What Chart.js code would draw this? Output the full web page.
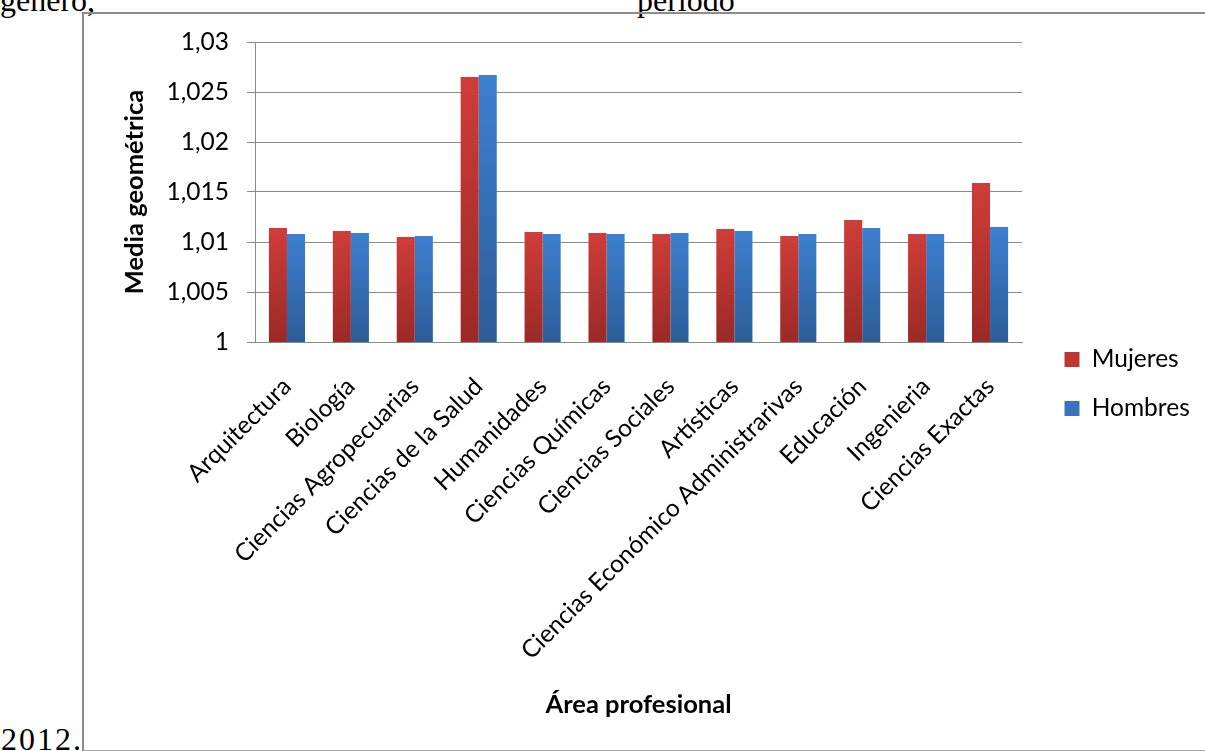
<!DOCTYPE html>
<html>
<head>
<meta charset="utf-8">
<script src="https://cdn.jsdelivr.net/npm/chart.js@4.4.1/dist/chart.umd.min.js"></script>
<style>
  html, body { margin: 0; padding: 0; background: #fff; overflow: hidden; }
  body { width: 1205px; height: 751px; position: relative; font-family: "Liberation Serif", serif; }
  .doc { position: absolute; font-size: 32px; color: #000; line-height: 1; white-space: nowrap; }
  #box { position: absolute; left: 82px; top: 12px; width: 1200px; height: 736px;
         border-left: 2px solid #8c8c8c; border-top: 2px solid #8c8c8c; border-bottom: 2px solid #a8a8a8; }
  #wrap { position: absolute; left: 84px; top: 14px; width: 1121px; height: 736px; }
</style>
</head>
<body>
<div class="doc" style="left:0; top:-16px;">genero,</div>
<div class="doc" style="left:637px; top:-16px;">periodo</div>
<div class="doc" style="left:1px; top:723px; letter-spacing:2px;">2012.</div>
<div id="box"></div>
<div id="wrap"><canvas id="grafica"></canvas></div>
<script>
// datos
var areas = ['Arquitectura', 'Biología', 'Ciencias Agropecuarias', 'Ciencias de la Salud', 'Humanidades',
             'Ciencias Químicas', 'Ciencias Sociales', 'Artísticas', 'Ciencias Económico Administrarivas',
             'Educación', 'Ingenieria', 'Ciencias Exactas'];
var mujeres = [1.0114, 1.0111, 1.0105, 1.0265, 1.0110, 1.0109, 1.0108, 1.0113, 1.0106, 1.0122, 1.0108, 1.0159];
var hombres = [1.0108, 1.0109, 1.0106, 1.0267, 1.0108, 1.0108, 1.0109, 1.0111, 1.0108, 1.0114, 1.0108, 1.0115];
var yTicks  = ['1', '1,005', '1,01', '1,015', '1,02', '1,025', '1,03'];

var fuente = 'Lato, "Open Sans", sans-serif';
var gris = '#8a8a8a';
var tam = 24.5;

// degradado por barra, claro arriba y oscuro abajo
function degradado(arriba, abajo) {
    return function (ctx) {
        var chart = ctx.chart;
        var area = chart.chartArea;
        if (!area || ctx.raw === undefined) return arriba;
        var yTop = chart.scales.y.getPixelForValue(ctx.raw);
        var g = chart.ctx.createLinearGradient(0, yTop, 0, area.bottom);
        g.addColorStop(0, arriba);
        g.addColorStop(1, abajo);
        return g;
    };
}

// mueve la leyenda a la derecha como en Excel
const leyendaExcel = {
    id: 'leyendaExcel',
    beforeLayout(chart) {
        var lg = chart.legend;
        if (lg && !lg._parcheado) {
            var fit = lg.fit;
            lg.fit = function () { fit.call(this); this.width = 183; };
            lg._parcheado = true;
        }
    },
    afterLayout(chart) {
        var lg = chart.legend;
        if (lg) { lg.left += 18; lg.right += 18; lg.top -= 12; lg.bottom -= 12; }
    }
};

const data = {
    labels: areas,
    datasets: [
        {label: 'Mujeres', data: mujeres, backgroundColor: degradado('#cf3d39', '#9b2926'), borderWidth: 0},
        {label: 'Hombres', data: hombres, backgroundColor: degradado('#3d80d0', '#2c5c98'), borderWidth: 0}
    ]
};

const config = {
    type: 'bar',
    data: data,
    plugins: [leyendaExcel],
    options: {
        responsive: true,
        maintainAspectRatio: false,
        animation: false,
        layout: {padding: {left: 0, top: 28, right: 0, bottom: 0}},
        datasets: {bar: {barPercentage: 1, categoryPercentage: 0.565}},
        plugins: {
            tooltip: {enabled: false},
            legend: {
                position: 'right',
                labels: {
                    font: {family: fuente, size: tam},
                    color: '#000',
                    boxWidth: 15,
                    boxHeight: 15,
                    padding: 24.5,
                    generateLabels: function (chart) {
                        var cols = ['#bf3632', '#3873bd'];
                        return chart.data.datasets.map(function (ds, i) {
                            return {text: ds.label, fillStyle: cols[i], strokeStyle: cols[i], lineWidth: 0,
                                    datasetIndex: i, hidden: false, fontColor: '#000'};
                        });
                    }
                }
            }
        },
        scales: {
            x: {
                grid: {display: false, drawTicks: false},
                border: {display: true, color: gris, width: 1},
                ticks: {
                    autoSkip: false, minRotation: 45, maxRotation: 45, padding: 30,
                    color: '#000', font: {family: fuente, size: tam}
                },
                title: {display: true, text: 'Área profesional', color: '#000',
                        font: {family: fuente, size: 25.5, weight: 'bold'}, padding: {top: 0, bottom: 30}},
                afterFit: function (s) { s.height = 408; }
            },
            y: {
                min: 1,
                max: 1.03,
                ticks: {
                    stepSize: 0.005, padding: 18, color: '#000',
                    font: {family: fuente, size: tam},
                    callback: function (v, i) { return yTicks[i]; }
                },
                grid: {color: gris, lineWidth: 1, tickLength: 8, drawTicks: true},
                border: {display: true, color: gris, width: 1},
                title: {display: true, text: 'Media geométrica', color: '#000',
                        font: {family: fuente, size: 25.5, weight: 'bold'}, padding: {top: 35, bottom: 0}},
                afterFit: function (s) { s.width = 171; s.paddingTop = 0; s.paddingBottom = 0; }
            }
        }
    }
};

const grafica = new Chart(document.querySelector('#grafica'), config);
</script>
</body>
</html>
